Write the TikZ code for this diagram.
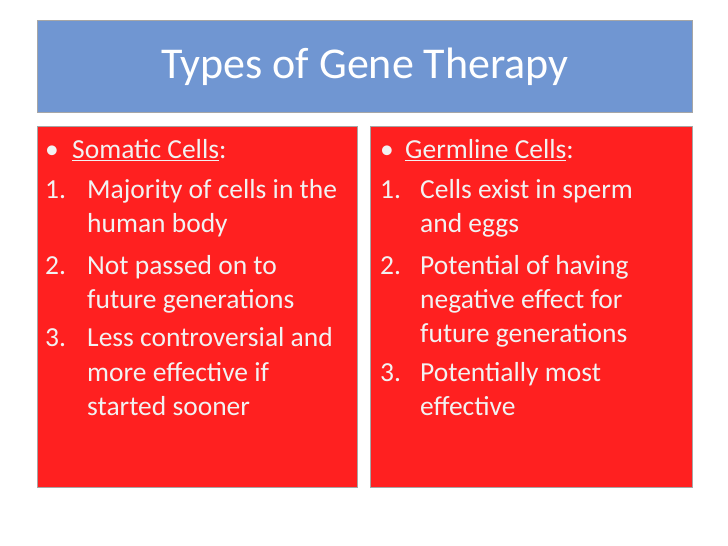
\documentclass[tikz,border=0pt]{standalone}
\usepackage{fontspec}
\setmainfont{Carlito}
\usetikzlibrary{positioning}
\definecolor{titleblue}{RGB}{112,150,210}
\definecolor{boxred}{RGB}{255,32,32}
\tikzset{
  panel/.style={draw=black!35,line width=1pt,anchor=north west,inner sep=0pt},
  line/.style={anchor=base west,inner sep=0pt,font=\fontsize{27.5}{32}\selectfont,text=white!95!black}
}
\begin{document}
\begin{tikzpicture}[x=1pt,y=1pt]
\useasboundingbox (0,0) rectangle (728,546);
\node[panel,fill=titleblue,minimum width=655pt,minimum height=92pt](title) at (37,526){};
\node[font=\fontsize{44}{48}\selectfont,text=white] (ttext) at (title.center) {Types of Gene Therapy};
\node[panel,fill=boxred,minimum width=320pt,minimum height=361pt](left) at (37,420){};
\node[panel,fill=boxred,minimum width=322pt,minimum height=361pt](right) at (370,420){};
% left column
\node[line](lb) at (45,387){\textbullet};
\node[line](lh) at (72,387){\underline{Somatic Cells}:};
\node[line](l1n) at (45,347){1.};
\node[line](l1a) at (87,347){Majority of cells in the};
\node[line](l1b) at (87,313){human body};
\node[line](l2n) at (45,271){2.};
\node[line](l2a) at (87,271){Not passed on to};
\node[line](l2b) at (87,237){future generations};
\node[line](l3n) at (45,199){3.};
\node[line](l3a) at (87,199){Less controversial and};
\node[line](l3b) at (87,164){more effective if};
\node[line](l3c) at (87,130){started sooner};
% right column
\node[line](rb) at (380,387){\textbullet};
\node[line](rh) at (405,387){\underline{Germline Cells}:};
\node[line](r1n) at (380,347){1.};
\node[line](r1a) at (420,347){Cells exist in sperm};
\node[line](r1b) at (420,313){and eggs};
\node[line](r2n) at (380,271){2.};
\node[line](r2a) at (420,271){Potential of having};
\node[line](r2b) at (420,237){negative effect for};
\node[line](r2c) at (420,203){future generations};
\node[line](r3n) at (380,164){3.};
\node[line](r3a) at (420,164){Potentially most};
\node[line](r3b) at (420,130){effective};
\end{tikzpicture}
\end{document}
